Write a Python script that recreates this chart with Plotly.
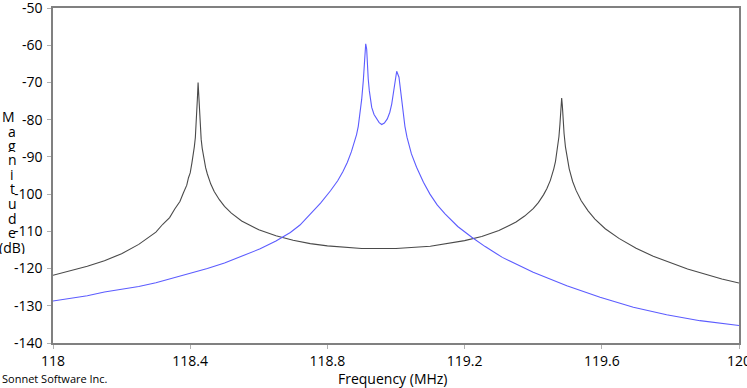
import plotly.graph_objects as go

# ---- data ----
gray_freq = [118.00, 118.05, 118.10, 118.15, 118.20, 118.25, 118.30, 118.32, 118.34, 118.355,
             118.37, 118.38, 118.39, 118.395, 118.40, 118.405, 118.41, 118.412, 118.415, 118.418,
             118.42, 118.421, 118.423, 118.425, 118.426, 118.428, 118.43, 118.432, 118.435, 118.438,
             118.44, 118.445, 118.45, 118.46, 118.47, 118.485, 118.50, 118.52, 118.55, 118.60,
             118.65, 118.70, 118.75, 118.80, 118.90, 118.95, 119.00, 119.10, 119.20, 119.25,
             119.30, 119.35, 119.375, 119.40, 119.415, 119.43, 119.44, 119.45, 119.455, 119.46,
             119.465, 119.47, 119.472, 119.475, 119.478, 119.48, 119.481, 119.483, 119.485, 119.486,
             119.488, 119.49, 119.494, 119.50, 119.505, 119.515, 119.525, 119.54, 119.56, 119.58,
             119.61, 119.65, 119.70, 119.75, 119.85, 119.95, 120.00]
gray_db = [-121.8, -120.7, -119.4, -117.9, -116.0, -113.5, -110.2, -108.1, -106.3, -104.0,
           -102.0, -99.7, -97.6, -95.6, -94.3, -91.6, -89.0, -87.3, -84.8, -80.6,
           -77.0, -74.3, -70.0, -74.3, -76.8, -80.6, -83.3, -85.3, -87.7, -89.6,
           -90.7, -92.9, -94.6, -97.3, -99.3, -101.5, -103.3, -105.1, -107.2, -109.6,
           -111.2, -112.4, -113.3, -113.9, -114.6, -114.7, -114.6, -114.0, -112.5, -111.4,
           -109.8, -107.5, -105.9, -103.9, -102.3, -100.2, -98.5, -96.3, -94.9, -93.2,
           -91.2, -88.5, -87.2, -84.6, -81.2, -78.0, -76.3, -74.2, -76.3, -78.1,
           -81.2, -83.7, -87.3, -91.0, -93.2, -96.6, -99.0, -101.8, -104.5, -106.7,
           -109.3, -111.9, -114.55, -116.7, -120.1, -122.8, -123.9]

blue_freq = [118.00, 118.05, 118.10, 118.15, 118.20, 118.25, 118.30, 118.35, 118.40, 118.45,
             118.50, 118.55, 118.604, 118.65, 118.692, 118.72, 118.76, 118.78, 118.809, 118.83,
             118.845, 118.858, 118.87, 118.878, 118.885, 118.89, 118.895, 118.90, 118.9047, 118.908,
             118.9117, 118.9145, 118.9163, 118.919, 118.9222, 118.9292, 118.936, 118.9437, 118.951, 118.9583,
             118.966, 118.9746, 118.982, 118.9875, 118.9915, 118.995, 119.002, 119.0087, 119.012, 119.0146,
             119.0213, 119.026, 119.032, 119.045, 119.060, 119.080, 119.099, 119.120, 119.143, 119.180,
             119.221, 119.260, 119.310, 119.400, 119.498, 119.595, 119.692, 119.789, 119.886, 120.00]
blue_db = [-128.7, -128.0, -127.3, -126.3, -125.6, -124.8, -123.8, -122.6, -121.4, -120.0,
           -118.5, -116.7, -114.7, -112.6, -110.3, -108.3, -104.4, -102.4, -99.1, -96.4,
           -94.0, -91.5, -88.6, -86.4, -84.0, -81.8, -78.4, -74.5, -69.5, -65.5,
           -59.6, -61.0, -65.0, -69.0, -72.2, -76.7, -78.6, -79.8, -80.8, -81.3,
           -80.9, -79.8, -78.0, -75.8, -73.4, -70.4, -67.0, -68.6, -71.2, -74.0,
           -79.4, -81.8, -84.7, -89.2, -92.8, -96.8, -100.0, -102.9, -105.3, -108.7,
           -111.6, -114.1, -117.0, -121.0, -124.6, -127.7, -130.4, -132.4, -134.0, -135.3]

x_ticks = [118.0, 118.4, 118.8, 119.2, 119.6, 120.0]
x_tick_labels = ["118", "118.4", "118.8", "119.2", "119.6", "120"]
y_ticks = [-140, -130, -120, -110, -100, -90, -80, -70, -60, -50]
y_tick_labels = ["-140", "-130", "-120", "-110", "-100", "-90", "-80", "-70", "-60", "-50"]
y_title_letters = ["M", "a", "g", "n", "i", "t", "u", "d", "e", "(dB)"]

FONT = "Open Sans"
W, H = 747, 388
ML, MR, MT, MB = 53, 8, 8, 45

fig = go.Figure()
fig.add_trace(go.Scatter(x=gray_freq, y=gray_db, mode="lines",
                         line=dict(color="#4a4a4a", width=1.1), showlegend=False))
fig.add_trace(go.Scatter(x=blue_freq, y=blue_db, mode="lines",
                         line=dict(color="#5c5cff", width=1.1), showlegend=False))

axis_common = dict(showgrid=False, zeroline=False, showline=True, linecolor="#808080",
                   linewidth=1.5, mirror=True, ticks="outside", ticklen=4, tickcolor="#b0b0b0",
                   automargin=False, ticklabeloverflow="allow",
                   tickfont=dict(family=FONT, size=14, color="#000000"))

fig.update_xaxes(range=[118, 120], tickvals=x_ticks, ticktext=x_tick_labels,
                 ticklabelstandoff=0, **axis_common)
fig.update_yaxes(range=[-140, -50], tickvals=y_ticks, ticktext=y_tick_labels,
                 ticklabelstandoff=2, **axis_common)

plot_h = H - MT - MB
plot_w = W - ML - MR


def px_x(p):
    return (p - ML) / plot_w


def px_y(p):
    return 1 - (p - MT) / plot_h


annotations = []
start_y = 116
step = 14.5
for i, ch in enumerate(y_title_letters):
    py = start_y + i * step
    px = 8 if ch == "M" else 12
    annotations.append(dict(text=ch, xref="paper", yref="paper",
                            x=px_x(px), y=px_y(py), height=14,
                            xanchor="center", yanchor="middle", showarrow=False,
                            font=dict(family=FONT, size=14, color="#000")))
annotations.append(dict(text="Frequency (MHz)", xref="paper", yref="paper",
                        x=px_x(393), y=px_y(378), xanchor="center", yanchor="middle",
                        showarrow=False, font=dict(family=FONT, size=14, color="#000")))
annotations.append(dict(text="Sonnet Software Inc.", xref="paper", yref="paper",
                        x=px_x(0), y=px_y(378),
                        xanchor="left", yanchor="middle", showarrow=False,
                        font=dict(family=FONT, size=11, color="#000")))

fig.update_layout(width=W, height=H, margin=dict(l=ML, r=MR, t=MT, b=MB),
                  paper_bgcolor="white", plot_bgcolor="white",
                  annotations=annotations, font=dict(family=FONT))

fig.write_html("out.html", config={"displayModeBar": False},
               post_script="document.body.style.margin='0';document.body.style.overflow='hidden';")
